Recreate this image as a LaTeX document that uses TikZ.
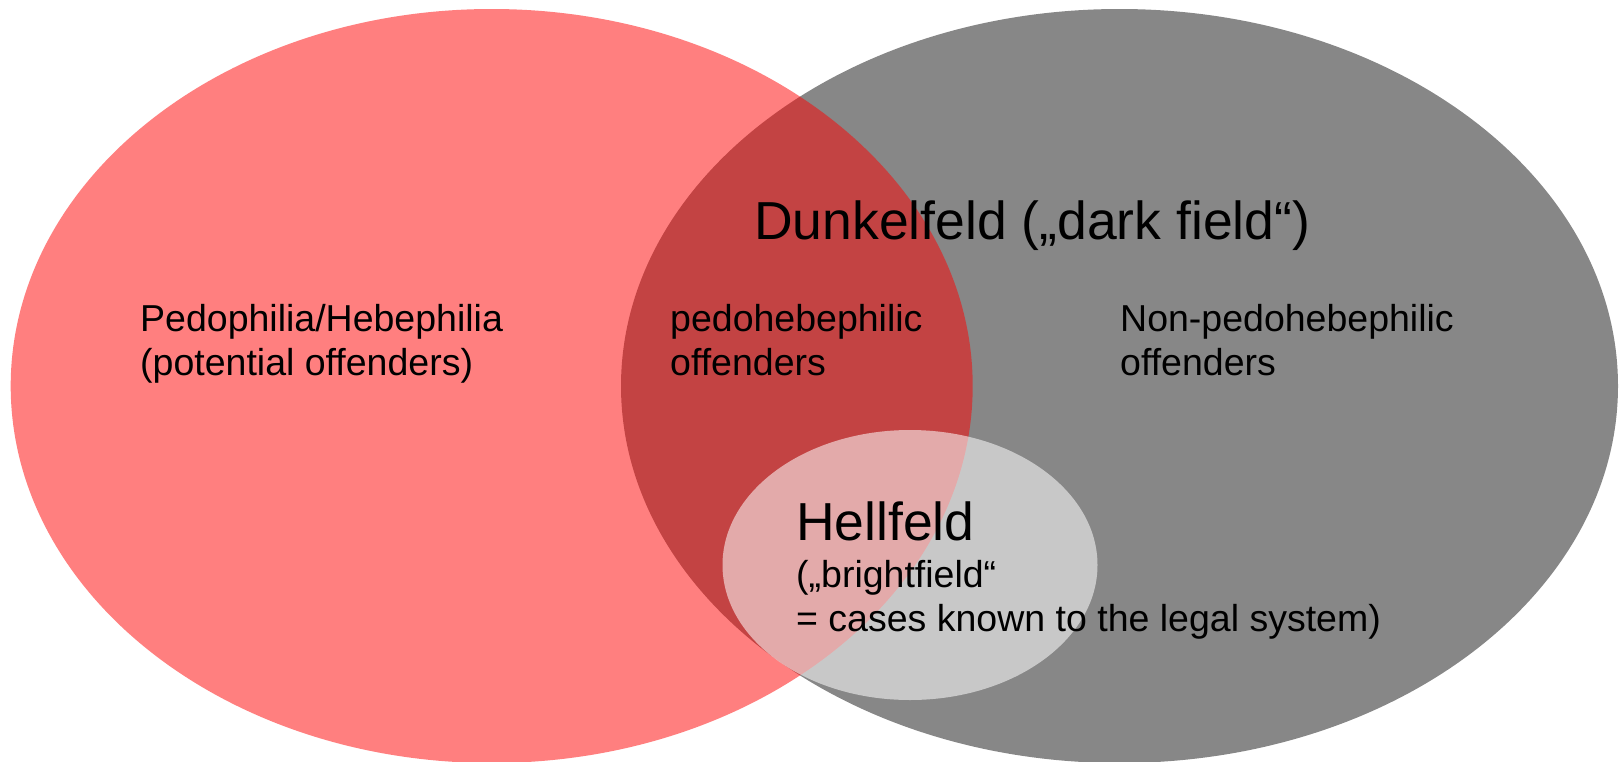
\documentclass[tikz,border=0pt]{standalone}
\usepackage{fontspec}
\setmainfont{Liberation Sans}
\definecolor{venngray}{HTML}{878787}
\tikzset{
  small/.style={anchor=base west, inner sep=0pt, font=\fontsize{37.5}{44}\selectfont},
  big/.style={anchor=base west, inner sep=0pt, font=\fontsize{53.5}{60}\selectfont},
}
\begin{document}
\begin{tikzpicture}[x=1pt,y=-1pt]
\useasboundingbox (0,0) rectangle (1623,761);
% ellipses
\fill[venngray] (1119.5,386) ellipse [x radius=498.5, y radius=377];
\fill[red, fill opacity=0.5] (491.7,386) ellipse [x radius=481, y radius=377];
\fill[white, fill opacity=0.55] (910,565) ellipse [x radius=187.5, y radius=135];
% texts
\node[big] (dunkel) at (754,239) {Dunkelfeld („dark field“)};
\node[small] (pedo1) at (140,331) {Pedophilia/Hebephilia};
\node[small] (pedo2) at (140,375) {(potential offenders)};
\node[small] (ph1) at (670,331) {pedohebephilic};
\node[small] (ph2) at (670,375) {offenders};
\node[small] (non1) at (1120,331) {Non-pedohebephilic};
\node[small] (non2) at (1120,375) {offenders};
\node[big] (hell) at (796,540) {Hellfeld};
\node[small] (bright1) at (796,587) {(„brightfield“};
\node[small] (bright2) at (796,631) {= cases known to the legal system)};
\end{tikzpicture}
\end{document}
